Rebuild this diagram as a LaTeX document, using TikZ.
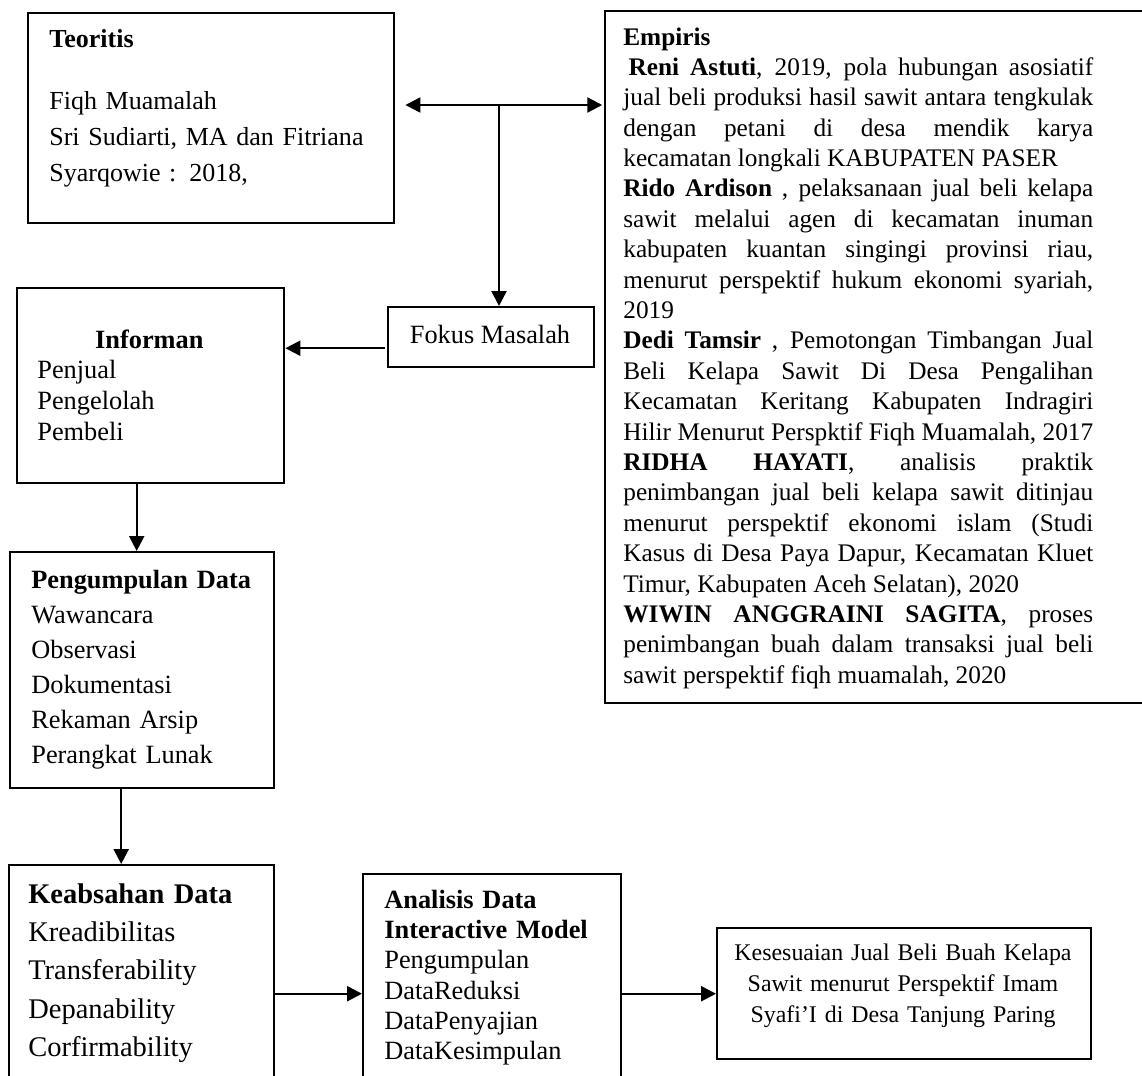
\documentclass[tikz,border=0pt]{standalone}
\usepackage{fontspec}
\setmainfont{Liberation Serif}
\usetikzlibrary{arrows.meta,calc}

\begin{document}
\begin{tikzpicture}[x=0.02cm, y=-0.02cm,
    box/.style={draw, line width=1.4pt, anchor=north west, inner sep=0pt},
    txt/.style={inner sep=0pt, anchor=base west, align=left},
    arr/.style={line width=1.3pt, -{Triangle[length=8.5pt,width=8.5pt]}}]
  \useasboundingbox (0,0) rectangle (1142,1075);
  \clip (0,0) rectangle (1142,1075);
  % kotak
  \node[box, minimum width=7.32cm, minimum height=4.2cm] (teori) at (27,12) {};
  \node[box, minimum width=11.2cm, minimum height=13.84cm] (empiris) at (604,10) {};
  \node[box, minimum width=4.12cm, minimum height=1.2cm] (fokus) at (387,306) {};
  \node[box, minimum width=5.34cm, minimum height=3.9cm] (informan) at (16,287) {};
  \node[box, minimum width=5.28cm, minimum height=4.72cm] (kumpul) at (9,551) {};
  \node[box, minimum width=5.3cm, minimum height=4.8cm] (keab) at (8,864) {};
  \node[box, minimum width=5.16cm, minimum height=4.8cm] (anal) at (362,873) {};
  \node[box, minimum width=7.48cm, minimum height=2.62cm] (hasil) at (716,927) {};
  % isi
  \node[txt, text width=6.8cm, font=\fontsize{14.8}{20.5}\selectfont] (teoriT) at (49,47)
    {\textbf{Teoritis}\\[15pt]
     Fiqh Muamalah\\
     Sri Sudiarti, MA dan Fitriana\\
     Syarqowie : 2018,};
  \node[txt, align=justify, text width=9.4cm, font=\fontsize{14.4}{17.3}\selectfont] (empirisT) at (623,45)
    {\tolerance=10000\relax\hyphenpenalty=10000\relax\hbadness=10000\relax
     \textbf{Empiris}\\
     \hspace*{3pt}\textbf{Reni Astuti}, 2019, pola hubungan asosiatif\linebreak
     jual beli produksi hasil sawit antara tengkulak\linebreak
     dengan petani di desa mendik karya\linebreak
     kecamatan longkali KABUPATEN PASER\\
     \textbf{Rido Ardison} , pelaksanaan jual beli kelapa\linebreak
     sawit melalui agen di kecamatan inuman\linebreak
     kabupaten kuantan singingi provinsi riau,\linebreak
     menurut perspektif hukum ekonomi syariah,\linebreak
     2019\\
     \textbf{Dedi Tamsir} , Pemotongan Timbangan Jual\linebreak
     Beli Kelapa Sawit Di Desa Pengalihan\linebreak
     Kecamatan Keritang Kabupaten Indragiri\linebreak
     Hilir Menurut Perspktif Fiqh Muamalah, 2017\linebreak
     \textbf{RIDHA HAYATI}, analisis praktik\linebreak
     penimbangan jual beli kelapa sawit ditinjau\linebreak
     menurut perspektif ekonomi islam (Studi\linebreak
     Kasus di Desa Paya Dapur, Kecamatan Kluet\linebreak
     Timur, Kabupaten Aceh Selatan), 2020\\
     \textbf{WIWIN ANGGRAINI SAGITA}, proses\linebreak
     penimbangan buah dalam transaksi jual beli\linebreak
     sawit perspektif fiqh muamalah, 2020};
  \node[inner sep=0pt, anchor=base, font=\fontsize{15}{18}\selectfont] (fokusT) at (490,343) {Fokus Masalah};
  \node[txt, text width=4.48cm, font=\fontsize{15}{17.6}\selectfont] (informanT) at (37,348)
    {\makebox[\linewidth]{\textbf{Informan}}\\
     Penjual\\
     Pengelolah\\
     Pembeli};
  \node[txt, text width=4.8cm, font=\fontsize{15}{20}\selectfont] (kumpulT) at (31,588)
    {\textbf{Pengumpulan Data}\\
     Wawancara\\
     Observasi\\
     Dokumentasi\\
     Rekaman Arsip\\
     Perangkat Lunak};
  \node[txt, text width=4.8cm, font=\fontsize{16.2}{21.9}\selectfont] (keabT) at (28,903)
    {\textbf{Keabsahan Data}\\
     Kreadibilitas\\
     Transferability\\
     Depanability\\
     Corfirmability};
  \node[txt, text width=4.8cm, font=\fontsize{15}{17.3}\selectfont] (analT) at (384,908)
    {\textbf{Analisis Data}\\
     \textbf{Interactive Model}\\
     Pengumpulan\\
     DataReduksi\\
     DataPenyajian\\
     DataKesimpulan};
  \node[inner sep=0pt, anchor=base, text width=7cm, align=center, font=\fontsize{13.6}{17.9}\selectfont] (hasilT) at (903,960)
    {Kesesuaian Jual Beli Buah Kelapa\\
     Sawit menurut Perspektif Imam\\
     Syafi’I di Desa Tanjung Paring};
  % panah
  \coordinate (hub) at (499,105);
  \draw[line width=1.3pt, {Triangle[length=8.5pt,width=8.5pt]}-{Triangle[length=8.5pt,width=8.5pt]},
    shorten <=5.7pt, shorten >=1pt] (teori.east |- hub) -- (empiris.west |- hub);
  \draw[arr] (hub) -- (hub |- fokus.north);
  \coordinate (f1) at ($(fokus.west)+(-2,11)$);
  \draw[arr] (f1) -- (f1 -| informan.east);
  \coordinate (i1) at ($(informan.south)+(-14,0)$);
  \draw[arr] (i1) -- (i1 |- kumpul.north);
  \coordinate (k1) at ($(kumpul.south)+(-21,0)$);
  \draw[arr] (k1) -- (k1 |- keab.north);
  \draw[arr] (keab.east |- hasil.west) -- (anal.west |- hasil.west);
  \draw[arr] (anal.east |- hasil.west) -- (hasil.west);
\end{tikzpicture}
\end{document}
